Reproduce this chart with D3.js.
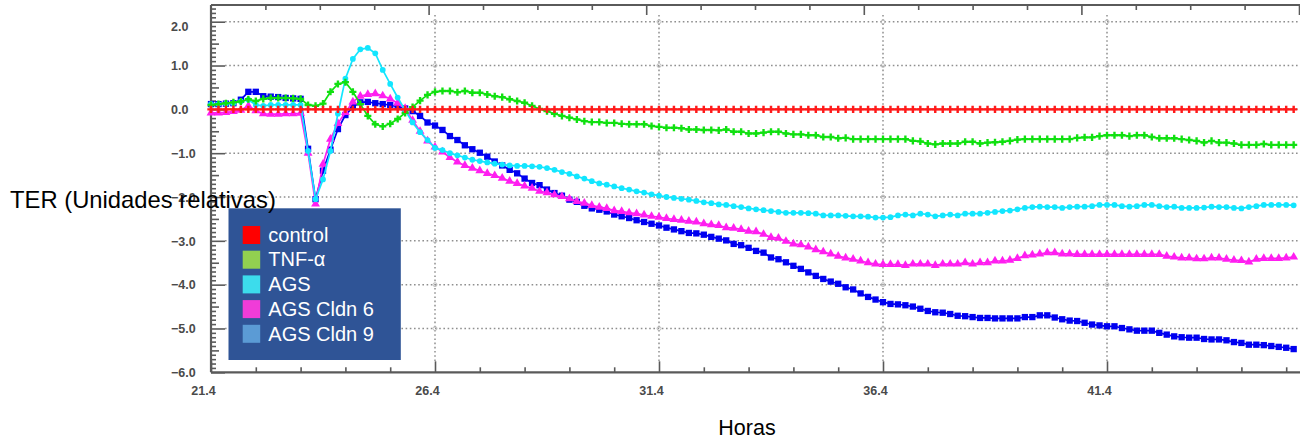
<!DOCTYPE html>
<html><head><meta charset="utf-8">
<script src="https://cdn.jsdelivr.net/npm/d3@7"></script>
<style>body{margin:0;background:#fff}svg{display:block}</style>
</head><body><svg id="c" width="1300" height="440"></svg>
<script>
// ---- data (readings every 10 minutes from 21.4 h) ----
const startHour = 21.4;
const stepHours = 1 / 6;
const xTickLabels = [21.4, 26.4, 31.4, 36.4, 41.4];
const yTickLabels = [2, 1, 0, -1, -2, -3, -4, -5, -6];
const seriesNames = ["control", "TNF-α", "AGS", "AGS Cldn 6", "AGS Cldn 9"];

const control = [
 0,0,0,0,0,0,0,0,0,0, 0,0,0,0,0,0,0,0,0,0, 0,0,0,0,0,0,0,0,0,0,
 0,0,0,0,0,0,0,0,0,0, 0,0,0,0,0,0,0,0,0,0, 0,0,0,0,0,0,0,0,0,0,
 0,0,0,0,0,0,0,0,0,0, 0,0,0,0,0,0,0,0,0,0, 0,0,0,0,0,0,0,0,0,0,
 0,0,0,0,0,0,0,0,0,0, 0,0,0,0,0,0,0,0,0,0, 0,0,0,0,0,0,0,0,0,0,
 0,0,0,0,0,0,0,0,0,0, 0,0,0,0,0,0,0,0,0,0, 0,0,0,0,0,0];

const tnf = [
 0.10,0.12,0.14,0.16,0.18,0.23,0.19,0.24,0.26,0.26,
 0.26,0.25,0.24,0.10,0.08,0.13,0.40,0.58,0.62,0.40,
 0.12,-0.15,-0.34,-0.39,-0.33,-0.22,-0.08,0.05,0.20,0.33,
 0.40,0.42,0.42,0.39,0.42,0.38,0.38,0.34,0.30,0.28,
 0.23,0.19,0.15,0.08,0.01,-0.04,-0.10,-0.15,-0.19,-0.23,
 -0.27,-0.29,-0.29,-0.31,-0.31,-0.33,-0.34,-0.34,-0.34,-0.38,
 -0.40,-0.42,-0.42,-0.43,-0.46,-0.46,-0.47,-0.47,-0.48,-0.46,
 -0.51,-0.51,-0.55,-0.55,-0.53,-0.51,-0.51,-0.55,-0.57,-0.57,
 -0.59,-0.59,-0.63,-0.63,-0.66,-0.65,-0.68,-0.68,-0.68,-0.68,
 -0.68,-0.68,-0.68,-0.68,-0.72,-0.73,-0.78,-0.80,-0.78,-0.78,
 -0.78,-0.74,-0.74,-0.78,-0.76,-0.75,-0.74,-0.72,-0.69,-0.68,
 -0.68,-0.68,-0.68,-0.68,-0.68,-0.68,-0.65,-0.64,-0.64,-0.61,
 -0.59,-0.59,-0.59,-0.61,-0.59,-0.59,-0.63,-0.66,-0.66,-0.66,
 -0.68,-0.70,-0.72,-0.76,-0.72,-0.76,-0.76,-0.78,-0.81,-0.81,
 -0.81,-0.79,-0.81,-0.81,-0.81,-0.81];

const ags = [
 0.12,0.12,0.13,0.14,0.18,0.22,0.10,0.08,0.10,0.10,
 0.10,0.10,0.10,-0.95,-2.05,-1.60,-0.95,-0.10,0.70,1.15,
 1.37,1.40,1.28,0.90,0.58,0.27,-0.02,-0.30,-0.52,-0.70,
 -0.88,-0.93,-1.00,-1.05,-1.10,-1.15,-1.18,-1.21,-1.24,-1.26,
 -1.28,-1.29,-1.29,-1.30,-1.31,-1.34,-1.38,-1.43,-1.47,-1.53,
 -1.58,-1.64,-1.69,-1.72,-1.76,-1.80,-1.83,-1.87,-1.90,-1.94,
 -1.97,-2.00,-2.02,-2.04,-2.06,-2.09,-2.12,-2.14,-2.17,-2.18,
 -2.21,-2.23,-2.26,-2.28,-2.30,-2.32,-2.34,-2.36,-2.36,-2.36,
 -2.37,-2.38,-2.42,-2.42,-2.42,-2.43,-2.44,-2.44,-2.45,-2.47,
 -2.47,-2.46,-2.42,-2.40,-2.42,-2.38,-2.40,-2.44,-2.42,-2.40,
 -2.42,-2.38,-2.38,-2.38,-2.36,-2.34,-2.32,-2.31,-2.28,-2.25,
 -2.23,-2.22,-2.23,-2.23,-2.25,-2.23,-2.22,-2.22,-2.21,-2.18,
 -2.18,-2.18,-2.21,-2.22,-2.21,-2.18,-2.18,-2.21,-2.23,-2.22,
 -2.25,-2.25,-2.25,-2.24,-2.22,-2.23,-2.23,-2.25,-2.26,-2.23,
 -2.21,-2.18,-2.18,-2.18,-2.18,-2.19];

const cldn6 = [
 -0.08,-0.08,-0.07,-0.05,-0.02,0.08,-0.03,-0.10,-0.11,-0.11,
 -0.10,-0.10,-0.09,-1.00,-2.16,-1.25,-0.68,-0.32,-0.07,0.17,
 0.30,0.34,0.36,0.31,0.24,0.14,0.02,-0.25,-0.50,-0.72,
 -0.86,-0.97,-1.10,-1.20,-1.28,-1.34,-1.40,-1.46,-1.51,-1.57,
 -1.64,-1.69,-1.75,-1.80,-1.87,-1.90,-1.95,-1.99,-2.04,-2.10,
 -2.14,-2.19,-2.23,-2.26,-2.31,-2.33,-2.36,-2.38,-2.41,-2.44,
 -2.46,-2.49,-2.51,-2.53,-2.55,-2.57,-2.61,-2.63,-2.65,-2.70,
 -2.71,-2.74,-2.78,-2.79,-2.85,-2.92,-2.94,-3.01,-3.07,-3.09,
 -3.14,-3.20,-3.25,-3.30,-3.35,-3.39,-3.42,-3.46,-3.50,-3.53,
 -3.54,-3.54,-3.54,-3.56,-3.53,-3.53,-3.53,-3.56,-3.53,-3.53,
 -3.53,-3.50,-3.53,-3.50,-3.50,-3.46,-3.46,-3.44,-3.40,-3.34,
 -3.32,-3.30,-3.27,-3.27,-3.30,-3.30,-3.31,-3.31,-3.31,-3.31,
 -3.31,-3.31,-3.31,-3.31,-3.31,-3.31,-3.31,-3.31,-3.35,-3.37,
 -3.39,-3.39,-3.41,-3.41,-3.39,-3.39,-3.42,-3.44,-3.45,-3.48,
 -3.42,-3.40,-3.40,-3.40,-3.39,-3.37];

const cldn9 = [
 0.12,0.12,0.13,0.14,0.22,0.40,0.40,0.30,0.29,0.28,
 0.26,0.25,0.24,-0.90,-2.05,-1.40,-0.92,-0.45,-0.13,0.05,
 0.16,0.17,0.14,0.12,0.10,0.06,0.02,-0.04,-0.15,-0.30,
 -0.37,-0.47,-0.61,-0.70,-0.82,-0.91,-0.99,-1.08,-1.19,-1.28,
 -1.38,-1.46,-1.58,-1.68,-1.73,-1.83,-1.91,-1.97,-2.06,-2.11,
 -2.20,-2.26,-2.29,-2.33,-2.40,-2.44,-2.48,-2.53,-2.57,-2.61,
 -2.65,-2.70,-2.74,-2.78,-2.82,-2.83,-2.86,-2.91,-2.95,-2.99,
 -3.07,-3.10,-3.16,-3.23,-3.27,-3.38,-3.42,-3.49,-3.57,-3.64,
 -3.72,-3.80,-3.87,-3.93,-3.98,-4.06,-4.11,-4.20,-4.28,-4.34,
 -4.40,-4.44,-4.45,-4.47,-4.50,-4.55,-4.60,-4.63,-4.64,-4.67,
 -4.71,-4.72,-4.74,-4.76,-4.76,-4.77,-4.77,-4.77,-4.77,-4.74,
 -4.74,-4.70,-4.70,-4.75,-4.79,-4.82,-4.83,-4.87,-4.91,-4.93,
 -4.95,-4.95,-4.99,-5.02,-5.05,-5.05,-5.05,-5.10,-5.14,-5.18,
 -5.20,-5.21,-5.21,-5.24,-5.25,-5.25,-5.27,-5.31,-5.33,-5.37,
 -5.37,-5.38,-5.40,-5.42,-5.44,-5.47];

// ---- drawing ----
const hours = control.map((_, i) => startHour + i * stepHours);
const svg = d3.select("#c");
const plotLeft = 211, plotRight = 1300, plotTop = 5, plotBottom = 372.3;

const x = d3.scaleLinear().domain([21.4, 26.4]).range([211, 435]);
const y = d3.scaleLinear().domain([-6, 2]).range([372.3, 21.7]);
const topScale = d3.scaleLinear().domain([0, 20]).range([211, 1299]);

const axisColor = "#5a5a5a";
const tickFont = "Liberation Sans, Arial, sans-serif";

// grid
const grid = svg.append("g");
grid.selectAll("line.h").data(yTickLabels.filter(v => v > -6)).join("line").attr("class", "h")
  .attr("x1", plotLeft + 14).attr("x2", plotRight).attr("y1", d => y(d)).attr("y2", d => y(d))
  .attr("stroke", "#8f8f8f").attr("stroke-width", 1.5).attr("stroke-dasharray", "1.6,2.6");
grid.selectAll("line.v").data(xTickLabels.filter(v => v > 21.4)).join("line").attr("class", "v")
  .attr("y1", plotTop + 10).attr("y2", plotBottom - 11).attr("x1", d => x(d)).attr("x2", d => x(d))
  .attr("stroke", "#8f8f8f").attr("stroke-width", 1.5).attr("stroke-dasharray", "1.6,2.6");
const inter = [];
xTickLabels.filter(v => v > 21.4).forEach(a => yTickLabels.filter(v => v > -6).forEach(b => inter.push([a, b])));
grid.selectAll("circle").data(inter).join("circle")
  .attr("cx", d => x(d[0])).attr("cy", d => y(d[1])).attr("r", 2)
  .attr("fill", "none").attr("stroke", "#b5b5b5").attr("stroke-width", 0.8);

// axes frame
svg.append("line").attr("x1", plotLeft).attr("x2", plotLeft).attr("y1", plotTop).attr("y2", plotBottom)
  .attr("stroke", axisColor).attr("stroke-width", 2.2);
svg.append("line").attr("x1", plotLeft).attr("x2", plotRight).attr("y1", plotTop).attr("y2", plotTop)
  .attr("stroke", axisColor).attr("stroke-width", 2.2);
svg.append("line").attr("x1", plotLeft).attr("x2", plotRight).attr("y1", plotBottom).attr("y2", plotBottom)
  .attr("stroke", axisColor).attr("stroke-width", 2.2);

function styleAxis(g) {
  g.select(".domain").remove();
  g.selectAll(".tick line").attr("stroke", axisColor).attr("stroke-width", 1.6);
  g.selectAll(".tick text").attr("fill", "#4a4a4a")
    .style("font-family", tickFont).style("font-size", "12.5px").style("font-weight", "bold");
}

// bottom axis
const minorX = d3.range(22.4, 45.5, 1).filter(v => !xTickLabels.some(m => Math.abs(m - v) < 1e-6));
svg.append("g").attr("transform", `translate(0,${plotBottom})`)
  .call(d3.axisBottom(x).tickValues(minorX).tickSize(-5).tickFormat(""))
  .call(styleAxis);
svg.append("g").attr("transform", `translate(0,${plotBottom})`)
  .call(d3.axisBottom(x).tickValues(xTickLabels).tickSize(-11).tickPadding(14).tickFormat(d3.format(".1f")))
  .call(styleAxis)
  .call(g => g.selectAll(".tick text").attr("dx", -8));

// top axis (ticks only)
svg.append("g").attr("transform", `translate(0,${plotTop})`)
  .call(d3.axisTop(topScale).tickValues(d3.range(1, 21)).tickSize(-5).tickFormat(""))
  .call(styleAxis)
  .call(g => g.selectAll(".tick line").attr("y2", d => d % 4 === 0 ? 10 : 5));

// left axis
const minorY = d3.range(-59, 24).map(v => v / 10).filter(v => Math.abs(v - Math.round(v)) > 1e-6);
svg.append("g").attr("transform", `translate(${plotLeft},0)`)
  .call(d3.axisLeft(y).tickValues(minorY).tickSize(-5).tickFormat(""))
  .call(styleAxis)
  .call(g => g.selectAll(".tick line").attr("x2", d => Math.abs(Math.abs(d % 1) - 0.5) < 1e-6 ? 8 : 5));
svg.append("g").attr("transform", `translate(${plotLeft},0)`)
  .call(d3.axisLeft(y).tickValues(yTickLabels).tickSize(-14).tickFormat(d3.format(".1f")))
  .call(styleAxis)
  .call(g => g.selectAll(".tick text").attr("x", -40).attr("text-anchor", "start")
        .attr("dy", d => d === 2 ? "0.72em" : "0.34em"));

// series
const series = [
  { name: seriesNames[4], values: cldn9, color: "#0000f0", sym: d3.symbolSquare, size: 40 },
  { name: seriesNames[3], values: cldn6, color: "#ff1ef0", sym: d3.symbolTriangle, size: 34 },
  { name: seriesNames[2], values: ags, color: "#12e6ff", sym: d3.symbolCircle, size: 26 },
  { name: seriesNames[1], values: tnf, color: "#10e010", sym: d3.symbolCross, size: 28 },
  { name: seriesNames[0], values: control, color: "#ff1a1a", sym: d3.symbolCross, size: 30 }
];
const line = d3.line().x((d, i) => x(hours[i])).y(d => y(d));
series.forEach(s => {
  const g = svg.append("g");
  g.append("path").attr("d", line(s.values)).attr("fill", "none")
    .attr("stroke", s.color).attr("stroke-width", 1.7);
  g.selectAll("path.m").data(s.values).join("path").attr("class", "m")
    .attr("transform", (d, i) => `translate(${x(hours[i])},${y(d)})`)
    .attr("d", d3.symbol().type(s.sym).size(s.size)).attr("fill", s.color);
});

// legend
const legendColors = ["#ff0000", "#92d050", "#3cdcec", "#f03cd8", "#5b9bd5"];
const lg = svg.append("g");
lg.append("rect").attr("x", 228.5).attr("y", 208.3).attr("width", 172.3).attr("height", 151.7).attr("fill", "#2f5496");
seriesNames.forEach((n, i) => {
  lg.append("rect").attr("x", 242.7).attr("y", 226 + i * 24.7).attr("width", 17.5).attr("height", 18)
    .attr("fill", legendColors[i]);
  lg.append("text").attr("x", 268.3).attr("y", 241.7 + i * 24.7).text(n)
    .attr("fill", "#fff").style("font-family", "Liberation Sans, Arial, sans-serif").style("font-size", "20px");
});

// axis titles
svg.append("text").attr("x", 10).attr("y", 208).text("TER (Unidades relativas)")
  .style("font-family", "Liberation Sans, Arial, sans-serif").style("font-size", "23.8px").attr("fill", "#000");
svg.append("text").attr("x", 747).attr("y", 435).attr("text-anchor", "middle").text("Horas")
  .style("font-family", "Liberation Sans, Arial, sans-serif").style("font-size", "21.5px").attr("fill", "#000");
</script>
</body></html>
